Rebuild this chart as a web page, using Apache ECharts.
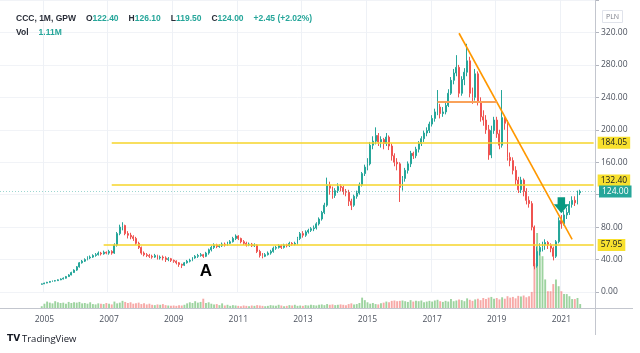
<!DOCTYPE html>
<html>
<head>
<meta charset="utf-8">
<script src="https://cdn.jsdelivr.net/npm/echarts@6.0.0/dist/echarts.min.js"></script>
<style>
html, body { margin: 0; padding: 0; background: #fff; }
#main { width: 640px; height: 353px; }
</style>
</head>
<body>
<div id="main"></div>
<script>
// CCC, monthly bars, Dec 2004 .. Aug 2021
const firstMonth = '2004-12';
const firstOpen = 9.5;

const closes = [
  10,
  11, 12, 13, 13.5, 14, 15, 16, 17, 19, 21, 24, 27,
  31, 36, 38, 40, 42, 43, 45, 46, 48, 47, 49, 48,
  50, 48, 58, 72, 80, 82, 72, 70, 68, 66, 60, 55,
  48, 46, 45, 44, 43, 45, 42, 43, 42, 40, 41, 39,
  38, 36, 34, 33, 36, 38, 39, 42, 44, 45, 46, 44,
  48, 52, 55, 58, 56, 57, 59, 58, 60, 62, 66, 69,
  66, 62, 60, 58, 59, 57, 58, 50, 45, 44, 46, 48,
  50, 54, 55, 57, 55, 58, 57, 60, 59, 60, 66, 72,
  70, 74, 76, 78, 79, 84, 90, 98, 107, 132, 128, 119,
  125, 130, 129, 124, 123, 112, 107, 118, 122, 132, 146, 154,
  158, 181, 186, 193, 185, 188, 183, 191, 180, 168, 160, 158,
  129, 140, 150, 158, 171, 168, 176, 183, 189, 196, 199, 207,
  214, 222, 228, 220, 222, 230, 245, 261, 270, 277, 245, 262,
  271, 285, 245, 240, 269, 234, 216, 212, 200, 169, 199, 212,
  195, 181, 215, 208, 166, 162, 150, 138, 126, 138, 124, 113,
  109, 80, 32, 50, 55, 58, 61, 58, 54, 44, 62, 88,
  84, 95, 98, 108, 113, 110, 121.55, 124
];

const highs = [
  10.5,
  11.5, 12.5, 13.6, 14.2, 14.8, 15.6, 16.8, 18, 19.8, 22, 25, 28,
  32, 37, 39.5, 41.5, 44, 45, 46.5, 48, 50, 49.5, 51, 50,
  52, 51.5, 60, 74, 83, 86, 83, 75, 73, 70, 68, 62,
  56, 50, 48, 47, 46, 47, 46, 45, 45, 44, 43, 42,
  40, 39, 37, 35, 37, 39.5, 41, 43, 45.5, 47, 48, 47,
  49.5, 53.5, 57, 60, 59.5, 59, 61, 61, 62, 64, 68, 71,
  70, 67, 64, 62, 61, 60.5, 60, 59, 52, 48, 48, 50,
  52, 56, 57, 59, 58.5, 59.5, 59.5, 62, 61.5, 62, 68, 74,
  75, 76, 78, 80, 82, 86, 92, 100, 110, 141, 136, 130,
  128, 134, 133, 131, 127, 126, 115, 120, 125, 135, 148, 157,
  165, 185, 192, 203, 196, 192, 190, 196, 193, 183, 171, 165,
  160, 143, 153, 161, 174, 173, 179, 186, 192, 199, 203, 210,
  218, 226, 249, 232, 228, 234, 250, 265, 275, 292, 280, 266,
  276, 306, 290, 252, 275, 272, 240, 224, 218, 206, 205, 216,
  216, 200, 249, 218, 212, 172, 166, 155, 142, 142, 140, 128,
  118, 112, 82, 56, 60, 62, 65, 63, 60, 56, 64, 92,
  95, 100, 104, 112, 118, 118, 125, 126.1
];

const lows = [
  9.2,
  9.8, 10.8, 11.5, 12.6, 13, 13.6, 14.6, 15.5, 16.5, 18.5, 20.5, 23.5,
  26, 30, 35, 37, 39, 40.5, 42, 43.5, 45, 45, 46, 46.5,
  46, 46, 47, 56, 70, 76, 70, 66, 65, 63, 58, 53,
  46, 44, 43, 42, 41, 42, 40, 40, 39, 37, 38, 37,
  36, 34, 31, 29.5, 32, 35, 36.5, 38, 41, 42, 43.5, 42,
  43, 46, 50, 53, 54, 54.5, 55.5, 56, 57, 59, 61, 64,
  64, 60, 58, 56, 56.5, 55.5, 55.5, 48, 42.5, 41.5, 43, 45,
  46, 48.5, 52, 53.5, 53, 53.5, 55, 55.5, 57, 57.5, 58.5, 64,
  67, 68, 72, 74, 75, 77, 82, 88, 96, 105, 120, 115,
  116, 122, 124, 120, 118, 106, 101, 105, 115, 120, 130, 143,
  150, 156, 176, 182, 180, 178, 176, 180, 175, 162, 155, 150,
  111, 125, 136, 146, 154, 164, 165, 172, 180, 185, 192, 196,
  204, 210, 218, 214, 216, 219, 228, 243, 256, 266, 240, 242,
  255, 266, 240, 232, 236, 230, 210, 205, 195, 163, 165, 195,
  190, 176, 178, 200, 162, 155, 145, 132, 122, 122, 118, 108,
  104, 76, 28, 30, 45, 50, 52, 53, 49, 39, 42, 60,
  78, 82, 90, 95, 104, 106, 108, 119.5
];

// volume, millions of shares
const volumes = [
  0.5,
  1.2, 1.8, 1.5, 1.3, 1.9, 1.6, 1.4, 1.5, 1.2, 1.7, 1.4, 1.6,
  1.5, 1.7, 1.3, 1.4, 1.2, 1.6, 1.1, 1.0, 1.3, 1.2, 1.1, 1.4,
  1.2, 1.0, 1.8, 1.3, 1.5, 2.0, 1.7, 1.4, 1.6, 1.2, 1.3, 1.5,
  1.1, 1.3, 1.0, 1.2, 0.9, 0.8, 1.0, 0.9, 1.1, 0.8, 0.7, 0.6,
  0.7, 0.6, 0.8, 0.7, 0.9, 1.3, 1.6, 1.4, 1.9, 1.5, 1.7, 2.6,
  1.4, 1.6, 1.2, 1.0, 1.1, 0.8, 1.3, 0.7, 0.9, 0.6, 0.8, 0.7,
  0.6, 0.5, 0.7, 0.6, 0.5, 0.7, 0.6, 0.8, 0.7, 0.6, 0.5, 0.6,
  0.8, 0.7, 0.6, 0.9, 0.7, 0.5, 0.6, 0.8, 0.7, 0.9, 0.6, 0.7,
  0.6, 0.8, 0.7, 0.9, 0.8, 0.7, 0.9, 1.0, 0.8, 1.1, 0.9, 1.0,
  0.8, 0.9, 1.0, 0.9, 0.8, 1.1, 1.3, 1.0, 1.1, 1.4, 2.9, 2.2,
  1.6, 1.2, 1.4, 1.1, 1.0, 1.3, 1.5, 1.8, 1.6, 2.0, 2.1, 1.9,
  2.0, 2.1, 1.9, 1.7, 2.2, 1.8, 2.0, 1.9, 2.1, 1.6, 1.8, 2.0,
  1.8, 2.1, 2.3, 1.9, 1.7, 2.0, 1.8, 2.5, 1.9, 2.1, 2.4, 2.2,
  1.9, 2.7, 2.3, 2.0, 2.4, 2.6, 2.2, 2.8, 2.5, 2.9, 3.1, 2.6,
  2.8, 2.4, 3.0, 2.6, 3.3, 2.9, 3.1, 2.7, 3.4, 3.2, 3.5, 3.0,
  3.3, 4.5, 12.5, 21, 16.5, 14.5, 8, 4.7, 4.7, 6.7, 8, 6.1,
  4.7, 3.9, 3.9, 3.3, 2.5, 2.5, 2.8, 1.11
];

const lastBar = { open: 122.40, high: 126.10, low: 119.50, close: 124.00, change: '+2.45 (+2.02%)', vol: '1.11M' };

const yearTicks = ['2005', '2007', '2009', '2011', '2013', '2015', '2017', '2019', '2021'];

// drawn levels
const yellowLevels = [
  { from: '2007-02', value: 184.05 },
  { from: '2007-02', value: 132.40 },
  { from: '2006-11', value: 57.95 }
];
const trendLine = [['2017-11', 319], ['2021-05', 65]];
const orangeLevel = [['2017-03', 235], ['2019-01', 235]];
const arrowAt = ['2021-01', 107];
const letterA = ['2010-01', 25];

const UP = '#26a69a', DOWN = '#ef5350';
const YEL = '#f6d52a';
const FONT = 'Open Sans';
const HEAD_FONT = 'Liberation Sans';

// month categories Sep 2003 .. Jan 2022
const months = [];
for (let y = 2003, m = 9; months.length < 221;) {
  months.push(y + '-' + String(m).padStart(2, '0'));
  m++; if (m > 12) { m = 1; y++; }
}
const lastCat = months[months.length - 1];
const startIdx = months.indexOf(firstMonth);
const candleData = months.map(() => '-');
const volData = months.map(() => '-');
closes.forEach((c, i) => {
  let o = i === 0 ? firstOpen : closes[i - 1];
  if (i === closes.length - 1) o = lastBar.open;
  candleData[startIdx + i] = [o, c, lows[i], highs[i]];
  volData[startIdx + i] = {
    value: volumes[i],
    itemStyle: { color: c >= o ? 'rgba(76,175,80,0.55)' : 'rgba(239,83,80,0.5)' }
  };
});

const isYearTick = (i, v) => v.endsWith('-01') && yearTicks.includes(v.slice(0, 4));

const boxLabel = (txt, bg, fg, off) => ({
  show: true, position: 'end', distance: 4, formatter: txt,
  backgroundColor: bg, color: fg, fontSize: 8.5, fontFamily: FONT,
  padding: [2, 3, 1, 3], offset: off || [0, 0]
});

const markLines = [];
yellowLevels.forEach((l, k) => {
  markLines.push([
    { coord: [l.from, l.value], lineStyle: { color: YEL, width: 1.5, type: 'solid' },
      label: boxLabel(l.value.toFixed(2), '#f8e02e', '#131722', k === 1 ? [0, -4] : [0, 0]) },
    { coord: [lastCat, l.value] }
  ]);
});
markLines.push({
  yAxis: lastBar.close,
  lineStyle: { color: 'rgba(38,166,154,0.45)', width: 1, type: [1, 2] },
  label: boxLabel(lastBar.close.toFixed(2), UP, '#ffffff')
});
markLines.push([
  { coord: trendLine[0], lineStyle: { color: '#ff9800', width: 1.6, type: 'solid' }, label: { show: false } },
  { coord: trendLine[1] }
]);
markLines.push([
  { coord: orangeLevel[0], lineStyle: { color: '#f9a25a', width: 2, type: 'solid' }, label: { show: false } },
  { coord: orangeLevel[1] }
]);

const chart = echarts.init(document.getElementById('main'));

const head = '{s|CCC, 1M, GPW}  {s|O}{v|' + lastBar.open.toFixed(2) + '}  {s|H}{v|' + lastBar.high.toFixed(2) +
  '}  {s|L}{v|' + lastBar.low.toFixed(2) + '}  {s|C}{v|' + lastBar.close.toFixed(2) + '}  {v|' + lastBar.change + '}' +
  '\n{s|Vol}  {v|' + lastBar.vol + '}';

chart.setOption({
  animation: false,
  backgroundColor: '#fff',
  title: {
    left: 11, top: 7,
    text: head,
    textStyle: {
      lineHeight: 14,
      rich: {
        s: { color: '#2a2e39', fontSize: 8.5, fontFamily: HEAD_FONT, lineHeight: 14 },
        v: { color: UP, fontSize: 8.5, fontFamily: HEAD_FONT, lineHeight: 14 }
      }
    }
  },
  grid: [
    { left: 0, right: 45, top: 0, height: 292 },
    { left: 0, right: 45, bottom: 45, height: 100 }
  ],
  xAxis: [
    {
      type: 'category', data: months, gridIndex: 0,
      axisLine: { show: false }, axisTick: { show: false }, axisLabel: { show: false },
      splitLine: { show: true, interval: isYearTick, lineStyle: { color: '#eef1f6', width: 1 } }
    },
    {
      type: 'category', data: months, gridIndex: 1,
      axisLine: { show: false }, axisTick: { show: false },
      axisLabel: {
        show: true, interval: isYearTick, formatter: v => v.slice(0, 4),
        color: '#4c525e', fontSize: 8.5, fontFamily: FONT, margin: 7
      },
      splitLine: { show: false }
    }
  ],
  yAxis: [
    {
      type: 'value', gridIndex: 0, position: 'right', min: 0, max: 360, interval: 40,
      axisLine: { show: false },
      axisTick: { show: true, length: 4, lineStyle: { color: '#b2b5be' } },
      axisLabel: {
        color: '#4c525e', fontSize: 8.5, fontFamily: FONT, margin: 6,
        formatter: v => (v === 120 || v === 360) ? '' : v.toFixed(2)
      },
      splitLine: { lineStyle: { color: '#f1f3f7' } }
    },
    { type: 'value', gridIndex: 1, min: 0, max: 28, show: false }
  ],
  series: [
    {
      type: 'bar', xAxisIndex: 1, yAxisIndex: 1, data: volData,
      barWidth: '70%', z: 1, silent: true
    },
    {
      type: 'candlestick', xAxisIndex: 0, yAxisIndex: 0, data: candleData,
      barWidth: '55%', z: 3, silent: true,
      itemStyle: { color: UP, color0: DOWN, borderColor: UP, borderColor0: DOWN, borderWidth: 1 },
      markLine: { symbol: ['none', 'none'], silent: true, animation: false, z: 5, data: markLines },
      markPoint: {
        silent: true, animation: false,
        data: [
          {
            coord: arrowAt, symbol: 'path://M4,0 L12,0 L12,7 L16,7 L8,16 L0,7 L4,7 Z',
            symbolSize: [15, 16], itemStyle: { color: '#089981' }, label: { show: false }
          },
          {
            coord: letterA, symbol: 'circle', symbolSize: 1, itemStyle: { color: 'rgba(0,0,0,0)' },
            label: { show: true, position: 'inside', formatter: 'A', color: '#000', fontSize: 17,
                     fontWeight: 'bold', fontFamily: 'Liberation Sans' }
          }
        ]
      }
    }
  ],
  graphic: [
    { type: 'line', shape: { x1: 595.5, y1: 0, x2: 595.5, y2: 335 }, style: { stroke: '#c3c6ce', lineWidth: 1 }, z: 10 },
    { type: 'line', shape: { x1: 0, y1: 308.5, x2: 633, y2: 308.5 }, style: { stroke: '#c3c6ce', lineWidth: 1 }, z: 10 },
    { type: 'rect', shape: { x: 602.5, y: 10.5, width: 20, height: 12 }, style: { fill: '#fff', stroke: '#e0e3eb' }, z: 10 },
    { type: 'text', x: 612.5, y: 16.5, style: { text: 'PLN', fill: '#787b86', fontSize: 7, fontFamily: FONT, align: 'center', verticalAlign: 'middle' }, z: 11 },
    { type: 'text', x: 7, y: 339, style: { text: 'TV', fill: '#131722', fontSize: 9, fontWeight: 'bold', fontFamily: 'DejaVu Sans', verticalAlign: 'middle' }, z: 11 },
    { type: 'text', x: 22, y: 339, style: { text: 'TradingView', fill: '#131722', fontSize: 9.5, fontFamily: FONT, verticalAlign: 'middle' }, z: 11 }
  ]
});
</script>
</body>
</html>
